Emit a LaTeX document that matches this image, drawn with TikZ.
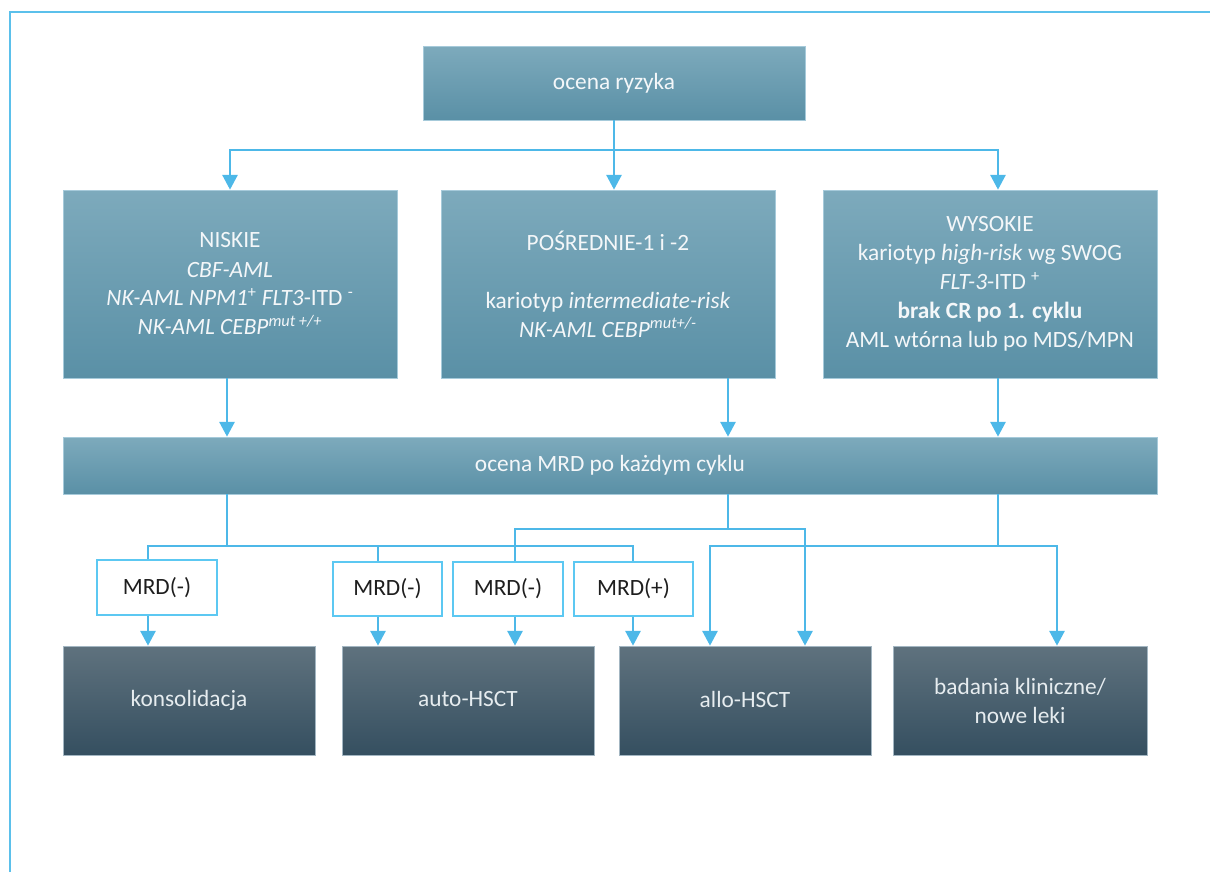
\documentclass[tikz,border=0pt]{standalone}
\usepackage{fontspec}
\setmainfont{Carlito}
\usetikzlibrary{arrows.meta}
\definecolor{lnc}{HTML}{4DB8E8}
\definecolor{framec}{HTML}{5BC0EB}
\definecolor{upT}{HTML}{7DAABC}
\definecolor{upB}{HTML}{5A90A6}
\definecolor{upE}{HTML}{A6CADA}
\definecolor{loT}{HTML}{5F727E}
\definecolor{loB}{HTML}{354F60}
\definecolor{loE}{HTML}{A3B6C2}
\definecolor{mrdE}{HTML}{5CC8F2}
\definecolor{txtD}{HTML}{1E1E1E}
\definecolor{txtL}{HTML}{F4F7F9}
\definecolor{txtG}{HTML}{E6ECEF}
\begin{document}
\begin{tikzpicture}[x=0.75pt,y=-0.75pt,
  txt/.style={font=\fontsize{17.5}{21.75}\selectfont, align=center, inner sep=0pt},
  upbox/.style={txt, rectangle, draw=upE, line width=0.6pt, top color=upT, bottom color=upB, text=txtL},
  lobox/.style={txt, rectangle, draw=loE, line width=0.6pt, top color=loT, bottom color=loB, text=txtG},
  mrdbox/.style={txt, rectangle, draw=mrdE, line width=1.1pt, fill=white, text=txtD},
  ln/.style={draw=lnc, line width=1.1pt},
  arr/.style={ln, -{Triangle[width=11.5pt,length=11pt]}}
]
\useasboundingbox (0,0) rectangle (1210,872);
\draw[draw=framec, line width=1.5pt] (10,872) -- (10,12) -- (1210,12);

% upper nodes
\node[upbox, minimum width=286.5pt, minimum height=55.5pt] (risk) at (614,83) {ocena ryzyka};
\node[upbox, minimum width=250.5pt, minimum height=141pt] (niskie) at (230,284)
  {NISKIE\\ \textit{CBF-AML}\\ \textit{NK-AML NPM1}\textsuperscript{+} \textit{FLT3}-ITD \textsuperscript{-}\\ \textit{NK-AML CEBP\textsuperscript{mut +/+}}};
\node[upbox, minimum width=250.5pt, minimum height=141pt] (posr) at (608,284)
  {POŚREDNIE-1 i -2\\[21.75pt] kariotyp \textit{intermediate-risk}\\ \textit{NK-AML CEBP\textsuperscript{mut+/-}}};
\node[upbox, minimum width=250.5pt, minimum height=141pt] (wys) at (990,284)
  {WYSOKIE\\ kariotyp \textit{high-risk} wg SWOG\\ \textit{FLT-3}-ITD \textsuperscript{+}\\ \textbf{brak CR po 1. cyklu}\\ AML wtórna lub po MDS/MPN};
\node[upbox, minimum width=820.5pt, minimum height=42.75pt] (mrdbar) at (610,465.5) {ocena MRD po każdym cyklu};

% MRD boxes
\node[mrdbox, minimum width=90pt, minimum height=41.25pt] (m1) at (157,587.5) {MRD(-)};
\node[mrdbox, minimum width=81.75pt, minimum height=40.5pt] (m2) at (387.5,589) {MRD(-)};
\node[mrdbox, minimum width=82.5pt, minimum height=40.5pt] (m3) at (508,589) {MRD(-)};
\node[mrdbox, minimum width=89.25pt, minimum height=40.5pt] (m4) at (633.5,589) {MRD(+)};

% bottom boxes
\node[lobox, minimum width=189pt, minimum height=81.75pt] (kons) at (189,700.5) {konsolidacja};
\node[lobox, minimum width=189pt, minimum height=81.75pt] (auto) at (468,700.5) {\raisebox{2pt}{auto-HSCT}};
\node[lobox, minimum width=189pt, minimum height=81.75pt] (allo) at (745,700.5) {\raisebox{2pt}{allo-HSCT}};
\node[lobox, minimum width=190.5pt, minimum height=81.75pt] (bad) at (1020,700.5) {badania kliniczne/\\ nowe leki};

% guide coordinates
\coordinate (j1) at (614,150);
\coordinate (x227) at (227,0);
\coordinate (x728) at (728,0);
\coordinate (x998) at (998,0);
\coordinate (x148) at (148,0);
\coordinate (x378) at (378,0);
\coordinate (x515) at (515,0);
\coordinate (x633) at (633,0);
\coordinate (x710) at (710,0);
\coordinate (x805) at (805,0);
\coordinate (x1057) at (1057,0);
\coordinate (jL) at (227,546);
\coordinate (jM) at (728,529);
\coordinate (jR) at (998,546);

% top connectors
\draw[arr] (risk.south) -- (risk.south |- posr.north);
\draw[arr] (j1) -| (niskie.north);
\draw[arr] (j1) -| (x998 |- wys.north);
\draw[arr] (niskie.south -| x227) -- (mrdbar.north -| x227);
\draw[arr] (posr.south -| x728) -- (mrdbar.north -| x728);
\draw[arr] (wys.south -| x998) -- (mrdbar.north -| x998);

% lower connectors
\draw[ln] (mrdbar.south -| jL) -- (jL);
\draw[ln] (m1.north -| x148) |- (jL) -| (m4.north -| x633);
\draw[ln] (jL) -| (m2.north -| x378);
\draw[ln] (mrdbar.south -| jM) -- (jM);
\draw[ln] (m3.north -| x515) |- (jM);
\draw[arr] (jM) -| (allo.north -| x805);
\draw[ln] (mrdbar.south -| jR) -- (jR);
\draw[arr] (jR) -| (allo.north -| x710);
\draw[arr] (jR) -| (bad.north -| x1057);

\draw[arr] (m1.south -| x148) -- (kons.north -| x148);
\draw[arr] (m2.south -| x378) -- (auto.north -| x378);
\draw[arr] (m3.south -| x515) -- (auto.north -| x515);
\draw[arr] (m4.south -| x633) -- (allo.north -| x633);
\end{tikzpicture}
\end{document}
